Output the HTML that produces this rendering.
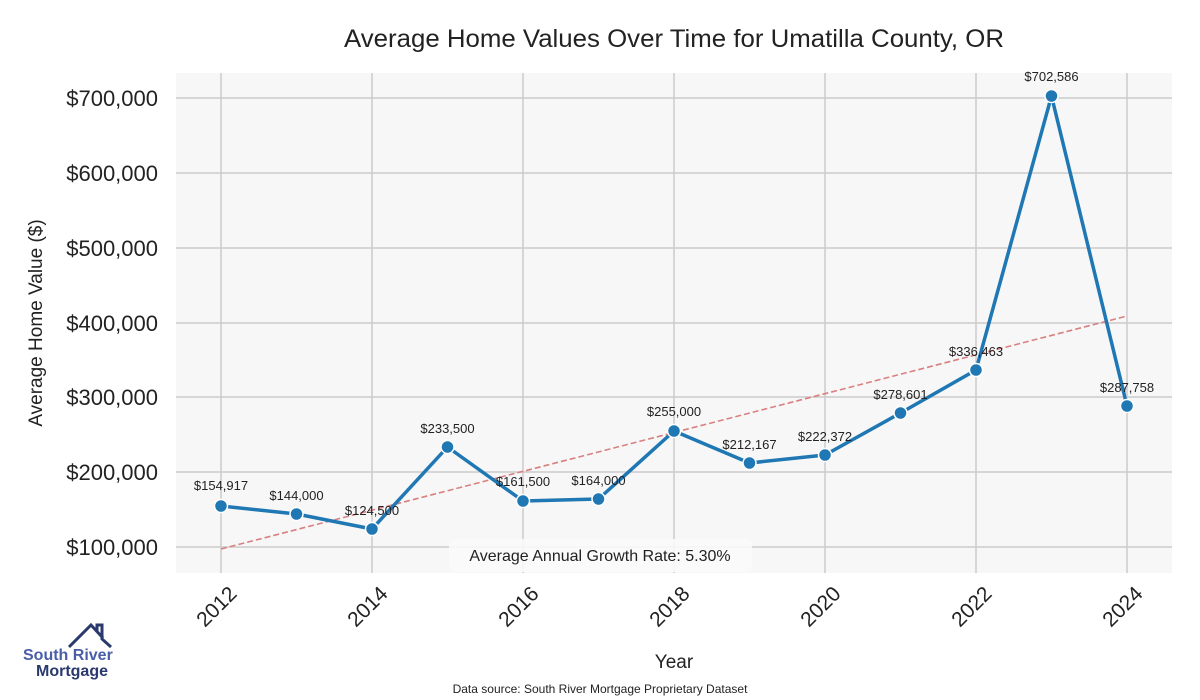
<!DOCTYPE html>
<html><head><meta charset="utf-8"><style>body{margin:0;background:#fff}svg{display:block}</style></head><body>
<svg width="1200" height="700" xmlns="http://www.w3.org/2000/svg" font-family="Liberation Sans, sans-serif">
<rect width="1200" height="700" fill="#fff"/>
<rect x="176" y="73" width="996" height="500" fill="#f7f7f7"/>
<g stroke="#cccccc" stroke-width="1.5">
<line x1="221" y1="73" x2="221" y2="573"/><line x1="372" y1="73" x2="372" y2="573"/><line x1="523" y1="73" x2="523" y2="573"/><line x1="674" y1="73" x2="674" y2="573"/><line x1="825" y1="73" x2="825" y2="573"/><line x1="976" y1="73" x2="976" y2="573"/><line x1="1127" y1="73" x2="1127" y2="573"/>
<line x1="176" y1="98" x2="1172" y2="98"/><line x1="176" y1="173" x2="1172" y2="173"/><line x1="176" y1="248" x2="1172" y2="248"/><line x1="176" y1="323" x2="1172" y2="323"/><line x1="176" y1="397" x2="1172" y2="397"/><line x1="176" y1="472" x2="1172" y2="472"/><line x1="176" y1="547" x2="1172" y2="547"/>
</g>
<text x="344" y="47" font-size="25" textLength="660" lengthAdjust="spacingAndGlyphs" fill="#222">Average Home Values Over Time for Umatilla County, OR</text>
<g font-size="22" fill="#222" text-anchor="end">
<text x="158" y="106">$700,000</text><text x="158" y="181">$600,000</text><text x="158" y="256">$500,000</text><text x="158" y="331">$400,000</text><text x="158" y="405">$300,000</text><text x="158" y="480">$200,000</text><text x="158" y="555">$100,000</text>
</g>
<text transform="translate(42,323) rotate(-90)" font-size="19" text-anchor="middle" fill="#222">Average Home Value ($)</text>
<g font-size="21" fill="#222" text-anchor="end">
<text transform="translate(238,595) rotate(-45)">2012</text><text transform="translate(389,595) rotate(-45)">2014</text><text transform="translate(540,595) rotate(-45)">2016</text><text transform="translate(691,595) rotate(-45)">2018</text><text transform="translate(842,595) rotate(-45)">2020</text><text transform="translate(993,595) rotate(-45)">2022</text><text transform="translate(1144,595) rotate(-45)">2024</text>
</g>
<text x="674" y="668" font-size="19" text-anchor="middle" fill="#222">Year</text>
<text x="600" y="693" font-size="12" text-anchor="middle" fill="#222">Data source: South River Mortgage Proprietary Dataset</text>
<line x1="221" y1="549" x2="1127" y2="316" stroke="#d98080" stroke-width="1.6" stroke-dasharray="6,3"/>
<polyline fill="none" stroke="#1f77b4" stroke-width="3.5" stroke-linejoin="round" points="221,506 296.5,514 372,529 447.5,447 523,501 598.5,499 674,431 749.5,463 825,455 900.5,413 976,370 1051.5,96 1127,406"/>
<g fill="#1f77b4" stroke="#fff" stroke-width="1.5">
<circle cx="221" cy="506" r="6.5"/><circle cx="296.5" cy="514" r="6.5"/><circle cx="372" cy="529" r="6.5"/><circle cx="447.5" cy="447" r="6.5"/><circle cx="523" cy="501" r="6.5"/><circle cx="598.5" cy="499" r="6.5"/><circle cx="674" cy="431" r="6.5"/><circle cx="749.5" cy="463" r="6.5"/><circle cx="825" cy="455" r="6.5"/><circle cx="900.5" cy="413" r="6.5"/><circle cx="976" cy="370" r="6.5"/><circle cx="1051.5" cy="96" r="6.5"/><circle cx="1127" cy="406" r="6.5"/>
</g>
<g font-size="13" fill="#222" text-anchor="middle">
<text x="221" y="490">$154,917</text><text x="296.5" y="500">$144,000</text><text x="372" y="515">$124,500</text><text x="447.5" y="433">$233,500</text><text x="523" y="486">$161,500</text><text x="598.5" y="485">$164,000</text><text x="674" y="416">$255,000</text><text x="749.5" y="449">$212,167</text><text x="825" y="441">$222,372</text><text x="900.5" y="399">$278,601</text><text x="976" y="356">$336,463</text><text x="1051.5" y="81">$702,586</text><text x="1127" y="392">$287,758</text>
</g>
<rect x="449" y="539" width="303" height="33" rx="6" fill="#fafafa" fill-opacity="0.9"/>
<text x="600" y="561" font-size="16" text-anchor="middle" fill="#222">Average Annual Growth Rate: 5.30%</text>
<polyline points="69,647 91,625 103,638" fill="none" stroke="#2a3a6e" stroke-width="3"/>
<polyline points="97,632 97,625 102,625 102,639 111,647" fill="none" stroke="#2a3a6e" stroke-width="3"/>
<text x="23" y="660" font-size="16" font-weight="bold" fill="#4a5ea8">South River</text>
<text x="36" y="676" font-size="16" font-weight="bold" fill="#2a3a6e">Mortgage</text>
</svg>
</body></html>
